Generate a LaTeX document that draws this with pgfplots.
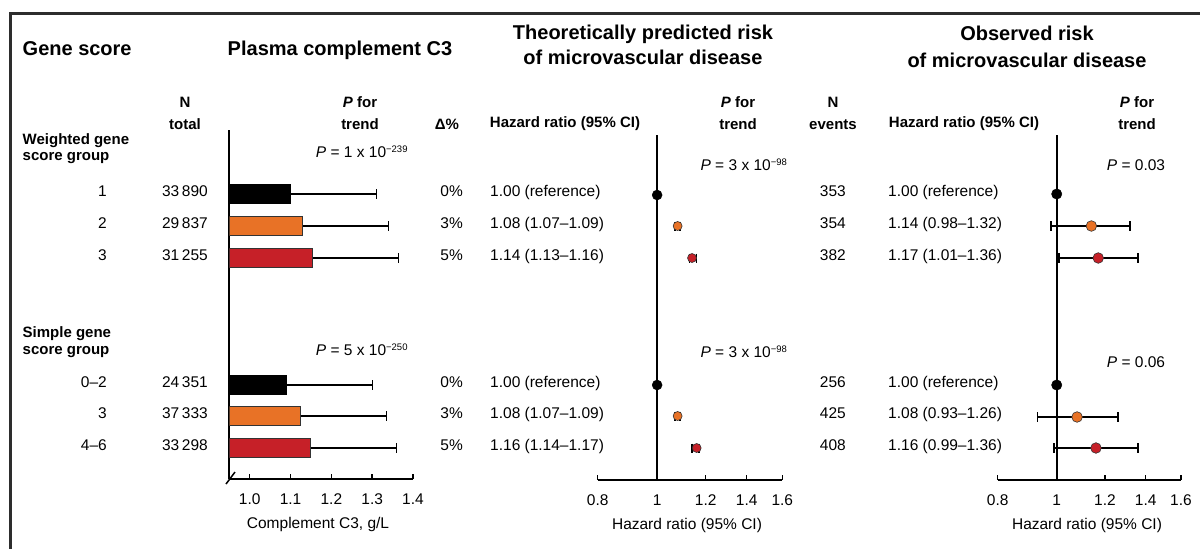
\documentclass[border=0pt]{standalone}
\usepackage{pgfplots}
\pgfplotsset{compat=1.18}
\usepackage{pgfplotstable}
\usepackage{fontspec}
\setmainfont{Liberation Sans}
\definecolor{orangeC}{RGB}{232,114,38}
\definecolor{redC}{RGB}{198,32,40}
\definecolor{frameC}{RGB}{45,45,45}
\newcommand{\ttl}{\fontsize{20}{26}\selectfont\bfseries}
\newcommand{\hdr}{\fontsize{15}{18}\selectfont\bfseries}
\newcommand{\bdy}{\fontsize{15.5}{18}\selectfont}
\newcommand{\sups}[1]{\textsuperscript{\fontsize{9.5}{9.5}\selectfont #1}}

% bar chart data: y = -(row pixel), x = mean, e = SD
\pgfplotstableread{
x y e
1.100 -194 0.21
1.090 -385 0.21
}\barblack
\pgfplotstableread{
x y e
1.130 -226 0.21
1.125 -416 0.21
}\barorange
\pgfplotstableread{
x y e
1.155 -258 0.21
1.150 -448 0.21
}\barred

\begin{document}
\begin{tikzpicture}
\useasboundingbox (0pt,0pt) rectangle (1200pt,-549pt);
\draw[line width=3pt, frameC] (10.5pt,-549pt) -- (10.5pt,-13.5pt) -- (1200pt,-13.5pt);

% ---------- bar chart ----------
\begin{axis}[at={(229.3pt,-479pt)}, anchor=south west, scale only axis,
  width=183.7pt, height=349pt,
  xmin=0.95, xmax=1.4, ymin=-479, ymax=-130,
  axis x line=bottom, axis y line=left,
  axis line style={-, line width=1.7pt, black},
  tick align=inside, major tick length=5pt,
  tick style={line width=1.5pt, black},
  xticklabel style={font=\bdy, yshift=-11pt},
  ytick=\empty,
  xtick={1.0,1.1,1.2,1.3,1.4}, xticklabels={1.0,1.1,1.2,1.3,1.4}]
\addplot[xbar, bar shift=0pt, bar width=19pt, fill=black, draw=black, line width=1pt,
  error bars/.cd, x dir=plus, x explicit,
  error bar style={line width=1.1pt, black},
  error mark options={line width=1.1pt, mark size=5pt, black, rotate=90}]
  table[x=x, y=y, x error=e] {\barblack};
\addplot[xbar, bar shift=0pt, bar width=19pt, fill=orangeC, draw=black!80, line width=1pt,
  error bars/.cd, x dir=plus, x explicit,
  error bar style={line width=1.1pt, black},
  error mark options={line width=1.1pt, mark size=5pt, black, rotate=90}]
  table[x=x, y=y, x error=e] {\barorange};
\addplot[xbar, bar shift=0pt, bar width=19pt, fill=redC, draw=black!80, line width=1pt,
  error bars/.cd, x dir=plus, x explicit,
  error bar style={line width=1.1pt, black},
  error mark options={line width=1.1pt, mark size=5pt, black, rotate=90}]
  table[x=x, y=y, x error=e] {\barred};
\end{axis}
\draw[line width=1.5pt] (226pt,-484pt) -- (235pt,-472pt);

% ---------- theoretically predicted ----------
\begin{axis}[at={(597.7pt,-480pt)}, anchor=south west, scale only axis,
  width=184.6pt, height=345pt,
  xmode=log, xmin=0.8, xmax=1.6, ymin=-480, ymax=-135,
  axis x line=bottom, axis y line=none,
  axis line style={-, line width=1.7pt, black},
  tick align=inside, major tick length=5pt,
  tick style={line width=1.5pt, black},
  xticklabel style={font=\bdy, yshift=-11pt},
  ytick=\empty,
  xtick={0.8,1,1.2,1.4,1.6}, xticklabels={0.8,1,1.2,1.4,1.6},
  clip=false]
\addplot[line width=1.8pt, black, no markers] coordinates {(1,-480) (1,-135)};
% confidence intervals (lower, upper)
\addplot[line width=1.4pt, black, mark=|, mark size=4.5pt] coordinates {(1.07,-226) (1.09,-226)};
\addplot[line width=1.4pt, black, mark=|, mark size=4.5pt] coordinates {(1.13,-258) (1.16,-258)};
\addplot[line width=1.4pt, black, mark=|, mark size=4.5pt] coordinates {(1.07,-416) (1.09,-416)};
\addplot[line width=1.4pt, black, mark=|, mark size=4.5pt] coordinates {(1.14,-448) (1.17,-448)};
% point estimates
\addplot[only marks, mark=*, mark size=5pt, black] coordinates {(1,-195) (1,-385)};
\addplot[only marks, mark=*, mark size=4.5pt, mark options={fill=orangeC, draw=black!80, line width=0.6pt}]
  coordinates {(1.08,-226) (1.08,-416)};
\addplot[only marks, mark=*, mark size=4.5pt, mark options={fill=redC, draw=black!80, line width=0.6pt}]
  coordinates {(1.14,-258) (1.16,-448)};
\end{axis}

% ---------- observed ----------
\begin{axis}[at={(997.7pt,-480pt)}, anchor=south west, scale only axis,
  width=183.3pt, height=345pt,
  xmode=log, xmin=0.8, xmax=1.6, ymin=-480, ymax=-135,
  axis x line=bottom, axis y line=none,
  axis line style={-, line width=1.7pt, black},
  tick align=inside, major tick length=5pt,
  tick style={line width=1.5pt, black},
  xticklabel style={font=\bdy, yshift=-11pt},
  ytick=\empty,
  xtick={0.8,1,1.2,1.4,1.6}, xticklabels={0.8,1,1.2,1.4,1.6},
  clip=false]
\addplot[line width=1.8pt, black, no markers] coordinates {(1,-480) (1,-135)};
% confidence intervals (lower, upper)
\addplot[line width=1.8pt, black, mark=|, mark size=5pt] coordinates {(0.98,-226) (1.32,-226)};
\addplot[line width=1.8pt, black, mark=|, mark size=5pt] coordinates {(1.01,-258) (1.36,-258)};
\addplot[line width=1.8pt, black, mark=|, mark size=5pt] coordinates {(0.93,-417) (1.26,-417)};
\addplot[line width=1.8pt, black, mark=|, mark size=5pt] coordinates {(0.99,-448) (1.36,-448)};
% point estimates
\addplot[only marks, mark=*, mark size=5.2pt, black] coordinates {(1,-194) (1,-385)};
\addplot[only marks, mark=*, mark size=5.3pt, mark options={fill=orangeC, draw=black!80, line width=0.6pt}]
  coordinates {(1.14,-226) (1.08,-417)};
\addplot[only marks, mark=*, mark size=5.3pt, mark options={fill=redC, draw=black!80, line width=0.6pt}]
  coordinates {(1.17,-258) (1.16,-448)};
\end{axis}

% ---------- titles ----------
\node[anchor=mid west, inner sep=0, font=\ttl] at (22.5pt,-53pt) {Gene score};
\node[anchor=mid, inner sep=0, font=\ttl] at (340pt,-53pt) {Plasma complement C3};
\node[anchor=mid, inner sep=0, font=\ttl] at (643pt,-37pt) {Theoretically predicted risk};
\node[anchor=mid, inner sep=0, font=\ttl] at (643pt,-62pt) {of microvascular disease};
\node[anchor=mid, inner sep=0, font=\ttl] at (1027pt,-38pt) {Observed risk};
\node[anchor=mid, inner sep=0, font=\ttl] at (1027pt,-65pt) {of microvascular disease};

% ---------- column headers ----------
\begin{scope}[every node/.style={inner sep=0, font=\hdr, anchor=mid}]
\node at (185pt,-105pt) {N};
\node at (185pt,-127pt) {total};
\node at (360pt,-105pt) {\textit{P} for};
\node at (360pt,-127pt) {trend};
\node at (447pt,-127pt) {Δ\%};
\node[anchor=mid west] at (22.5pt,-142pt) {Weighted gene};
\node[anchor=mid west] at (22.5pt,-158pt) {score group};
\node[anchor=mid west] at (22.5pt,-335pt) {Simple gene};
\node[anchor=mid west] at (22.5pt,-352pt) {score group};
\node at (565pt,-125pt) {Hazard ratio (95\% CI)};
\node at (738pt,-105pt) {\textit{P} for};
\node at (738pt,-127pt) {trend};
\node at (833pt,-105pt) {N};
\node at (833pt,-127pt) {events};
\node at (964pt,-125pt) {Hazard ratio (95\% CI)};
\node at (1137pt,-105pt) {\textit{P} for};
\node at (1137pt,-127pt) {trend};
\end{scope}

% ---------- rows ----------
\begin{scope}[every node/.style={inner sep=0, font=\bdy}]
\foreach \yy/\lab/\nt/\dd/\hm/\ne/\hr in {
  194/1/33\,890/0\%/1.00 (reference)/353/1.00 (reference),
  226/2/29\,837/3\%/1.08 (1.07–1.09)/354/1.14 (0.98–1.32),
  258/3/31\,255/5\%/1.14 (1.13–1.16)/382/1.17 (1.01–1.36),
  385/0–2/24\,351/0\%/1.00 (reference)/256/1.00 (reference),
  416/3/37\,333/3\%/1.08 (1.07–1.09)/425/1.08 (0.93–1.26),
  448/4–6/33\,298/5\%/1.16 (1.14–1.17)/408/1.16 (0.99–1.36)}{
  \node[anchor=mid east] at (107pt,-\yy pt) {\lab};
  \node[anchor=mid east] at (208pt,-\yy pt) {\nt};
  \node[anchor=mid east] at (463pt,-\yy pt) {\dd};
  \node[anchor=mid west] at (490pt,-\yy pt) {\hm};
  \node[anchor=mid east] at (846pt,-\yy pt) {\ne};
  \node[anchor=mid west] at (888pt,-\yy pt) {\hr};
}
\node[anchor=mid] at (362pt,-155pt) {\textit{P} = 1 x 10\sups{−239}};
\node[anchor=mid] at (362pt,-353pt) {\textit{P} = 5 x 10\sups{−250}};
\node[anchor=mid] at (744pt,-168pt) {\textit{P} = 3 x 10\sups{−98}};
\node[anchor=mid] at (744pt,-355pt) {\textit{P} = 3 x 10\sups{−98}};
\node[anchor=mid] at (1136pt,-168pt) {\textit{P} = 0.03};
\node[anchor=mid] at (1136pt,-365pt) {\textit{P} = 0.06};
\node[anchor=mid] at (318pt,-526pt) {Complement C3, g/L};
\node[anchor=mid] at (687pt,-527pt) {Hazard ratio (95\% CI)};
\node[anchor=mid] at (1087pt,-527pt) {Hazard ratio (95\% CI)};
\end{scope}
\end{tikzpicture}
\end{document}
